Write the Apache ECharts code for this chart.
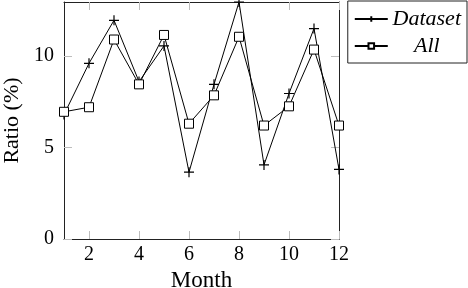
<!DOCTYPE html>
<html>
<head>
<meta charset="utf-8">
<script src="https://cdn.jsdelivr.net/npm/echarts@6/dist/echarts.min.js"></script>
<style>html,body{margin:0;padding:0;background:#fff}#c{width:468px;height:288px}</style>
</head>
<body>
<div id="c"></div>
<script>
const months = [1,2,3,4,5,6,7,8,9,10,11,12];
const datasetValues = [6.8,9.6,11.95,8.6,10.55,3.65,8.45,12.95,4.05,7.95,11.5,3.8];
const allValues = [6.95,7.2,10.9,8.45,11.15,6.3,7.85,11.05,6.2,7.25,10.35,6.2];
const xTicks = [2,4,6,8,10,12];
const yTicks = [0,5,10];

const font = 'Liberation Serif';
const chart = echarts.init(document.getElementById('c'), null, {renderer:'canvas'});
const tickStyle = {show:true, inside:true, length:8, lineStyle:{color:'#bdbdbd', width:1}};
const lineAx = {show:true, onZero:false, lineStyle:{color:'#222', width:1}};
chart.setOption({
  animation:false,
  backgroundColor:'#fff',
  grid:{left:64, right:129, top:2, bottom:49, containLabel:false, outerBoundsMode:'none'},
  legend:{
    orient:'vertical', right:1, top:1,
    padding:[7,6,6,6], itemGap:5, itemWidth:33, itemHeight:7,
    borderColor:'#222', borderWidth:1, backgroundColor:'#fff',
    data:['Dataset','All'],
    formatter: n => '{c|' + n + '}',
    textStyle:{fontFamily:font, fontStyle:'italic', fontSize:22, color:'#000',
      rich:{c:{fontFamily:font, fontStyle:'italic', fontSize:22, width:68, align:'center', color:'#000'}}}
  },
  xAxis:[
    {type:'value', min:1, max:12, position:'bottom',
     name:'Month', nameLocation:'middle', nameGap:30,
     nameTextStyle:{fontFamily:font, fontSize:23, color:'#000'},
     axisLine:lineAx, splitLine:{show:false},
     axisTick:Object.assign({customValues:xTicks}, tickStyle),
     axisLabel:{customValues:xTicks, margin:6, fontFamily:font, fontSize:20, color:'#000'}},
    {type:'value', min:1, max:12, position:'top',
     axisLine:lineAx, splitLine:{show:false},
     axisTick:Object.assign({customValues:xTicks}, tickStyle),
     axisLabel:{show:false}}
  ],
  yAxis:[
    {type:'value', min:0, max:12.95, position:'left',
     name:'Ratio (%)', nameLocation:'middle', nameGap:40, nameRotate:90,
     nameTextStyle:{fontFamily:font, fontSize:22, color:'#000'},
     axisLine:lineAx, splitLine:{show:false},
     axisTick:Object.assign({customValues:yTicks}, tickStyle),
     axisLabel:{customValues:yTicks, margin:10, fontFamily:font, fontSize:20, color:'#000'}},
    {type:'value', min:0, max:12.95, position:'right',
     axisLine:lineAx, splitLine:{show:false},
     axisTick:Object.assign({customValues:yTicks}, tickStyle),
     axisLabel:{show:false}}
  ],
  series:[
    {name:'Dataset', type:'line', xAxisIndex:0, yAxisIndex:0,
     data: months.map((m,i)=>[m, datasetValues[i]]),
     symbol:'path://M0,5L10,5M5,0L5,10', symbolSize:10,
     lineStyle:{color:'#000', width:1},
     itemStyle:{color:'none', borderColor:'#000', borderWidth:1.2}},
    {name:'All', type:'line', xAxisIndex:0, yAxisIndex:0,
     data: months.map((m,i)=>[m, allValues[i]]),
     symbol:'rect', symbolSize:9,
     lineStyle:{color:'#000', width:1},
     itemStyle:{color:'#fff', borderColor:'#000', borderWidth:1}}
  ]
});
</script>
</body>
</html>
